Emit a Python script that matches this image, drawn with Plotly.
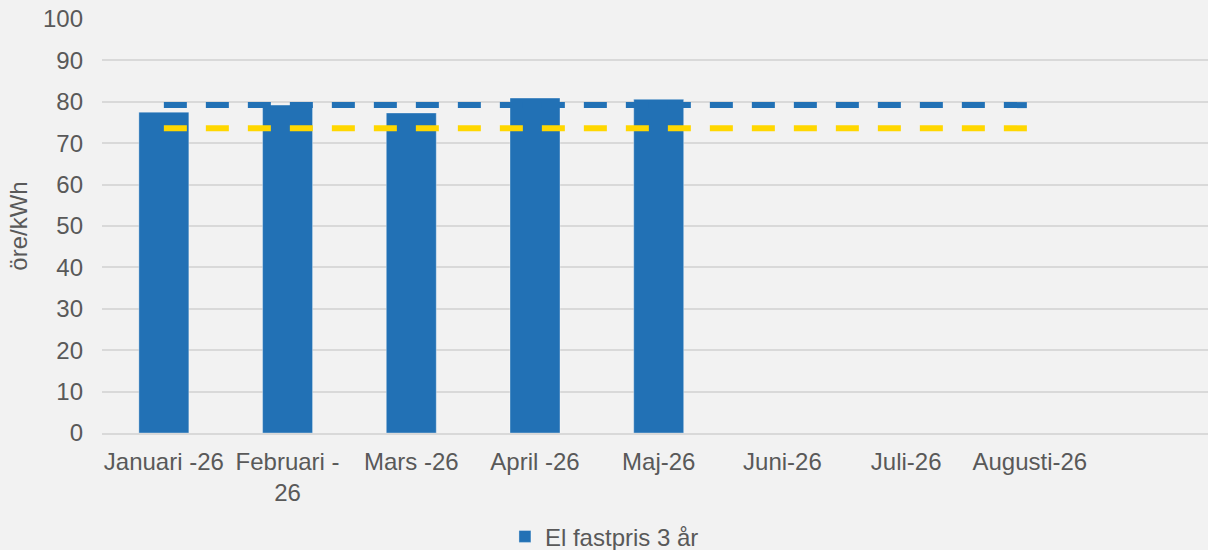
import plotly.graph_objects as go

categories = ["Januari -26", "Februari -<br>26", "Mars -26", "April -26",
              "Maj-26", "Juni-26", "Juli-26", "Augusti-26"]
bar_months = categories[:5]
bar_values = [77.5, 79.2, 77.3, 80.9, 80.6]
blue_line = [79.2, 79.2, 79.2, 79.2, 79.2, 79.2, 79.2, 79.2]
yellow_line = [73.6, 73.6, 73.6, 73.6, 73.6, 73.6, 73.6, 73.6]
y_ticks = [0, 10, 20, 30, 40, 50, 60, 70, 80, 90, 100]

FONT = "Arial, Liberation Sans, sans-serif"
GREY = "#595959"
BLUE = "#2271B5"
YELLOW = "#FFD700"
FS = 24

fig = go.Figure()
fig.add_trace(go.Bar(
    x=bar_months, y=bar_values, name="El fastpris 3 år",
    marker=dict(color=BLUE, line=dict(color="rgba(255,255,255,0.35)", width=1)),
    showlegend=True,
))
fig.add_trace(go.Scatter(
    x=categories, y=blue_line, mode="lines",
    line=dict(color=BLUE, width=6, dash="23px,19px"), showlegend=False,
))
fig.add_trace(go.Scatter(
    x=categories, y=yellow_line, mode="lines",
    line=dict(color=YELLOW, width=6, dash="23px,19px"), showlegend=False,
))

fig.update_layout(
    width=1208, height=550,
    margin=dict(l=102, r=0, t=19, b=117),
    paper_bgcolor="#F2F2F2", plot_bgcolor="#F2F2F2",
    font=dict(family=FONT, size=FS, color=GREY),
    bargap=0.596,
    showlegend=True,
    legend=dict(
        orientation="h", xref="container", yref="container",
        x=0.418, xanchor="left", y=0.024, yanchor="middle",
        font=dict(family=FONT, size=FS, color=GREY),
        bgcolor="rgba(0,0,0,0)",
    ),
)
fig.update_xaxes(
    type="category", categoryorder="array", categoryarray=categories,
    range=[-0.5, 8.44], showgrid=False, showline=True,
    linecolor="#D9D9D9", linewidth=2, ticks="", ticklabelstandoff=6,
    tickfont=dict(family=FONT, size=FS, color=GREY), zeroline=False,
)
fig.update_yaxes(
    range=[0, 100], tickvals=y_ticks, showgrid=True, gridcolor="#D9D9D9",
    gridwidth=2, zeroline=False, showline=False, ticks="",
    ticklabelstandoff=18,
    tickfont=dict(family=FONT, size=FS, color=GREY),
    title=dict(text="öre/kWh", font=dict(family=FONT, size=FS, color=GREY), standoff=8),
)

fig.write_html("out.html", config={"displayModeBar": False},
               post_script="document.body.style.margin='0';")
